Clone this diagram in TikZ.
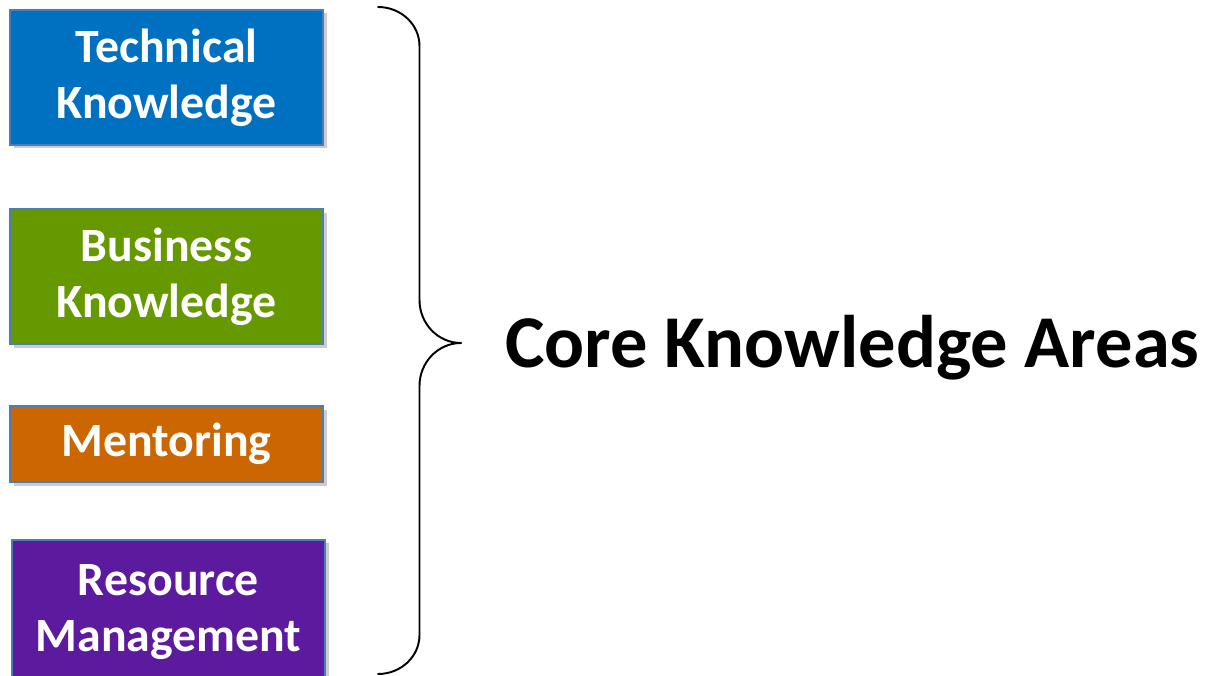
\documentclass[tikz,border=0pt]{standalone}
\usepackage{fontspec}
\setmainfont{Carlito}
\usetikzlibrary{positioning, shadows}
\definecolor{techblue}{HTML}{0070C0}
\definecolor{bizgreen}{HTML}{669900}
\definecolor{mentorange}{HTML}{CC6600}
\definecolor{respurple}{HTML}{5C1A9E}
\definecolor{edgeblue}{HTML}{4A7EBB}
\tikzstyle{area} = [rectangle, minimum width=6.26cm, minimum height=2.7cm, align=center, text=white, draw=edgeblue, line width=1pt, font=\bfseries\fontsize{27.2}{32}\selectfont, drop shadow={shadow xshift=0.07cm, shadow yshift=-0.07cm, opacity=0.4}]
\tikzstyle{brace} = [line width=1.1pt, black, line cap=round]

\begin{document}
\begin{tikzpicture}[node distance=1.25cm]
\useasboundingbox (0,0) rectangle (24.1,-13.52);
\node (tech) [area, fill=techblue] at (3.33,-1.55) {Technical\\Knowledge};
\node (biz) [area, fill=bizgreen, below=of tech] {Business\\Knowledge};
\node (mentor) [area, fill=mentorange, minimum height=1.52cm, below=1.2cm of biz] {Mentoring};
\node (res) [area, fill=respurple, minimum height=2.9cm, below=1.12cm of mentor, xshift=0.04cm] {Resource\\Management};
% curly brace grouping the four boxes
\coordinate (top) at (7.56,-0.14);
\coordinate (tip) at (9.22,-6.86);
\coordinate (bottom) at (7.56,-13.48);
\draw [brace] (top) arc[start angle=90, end angle=0, x radius=0.83cm, y radius=0.78cm]
  -- ++(0,-5.08) arc[start angle=180, end angle=270, x radius=0.83cm, y radius=0.86cm];
\draw [brace] (tip) arc[start angle=90, end angle=180, x radius=0.83cm, y radius=0.86cm]
  -- ++(0,-4.98) arc[start angle=0, end angle=-90, x radius=0.83cm, y radius=0.78cm];
\node (core) [anchor=base west, inner sep=0pt, font=\bfseries\fontsize{42.4}{50}\selectfont] at (10.1,-7.36) {Core Knowledge Areas};
\end{tikzpicture}
\end{document}
